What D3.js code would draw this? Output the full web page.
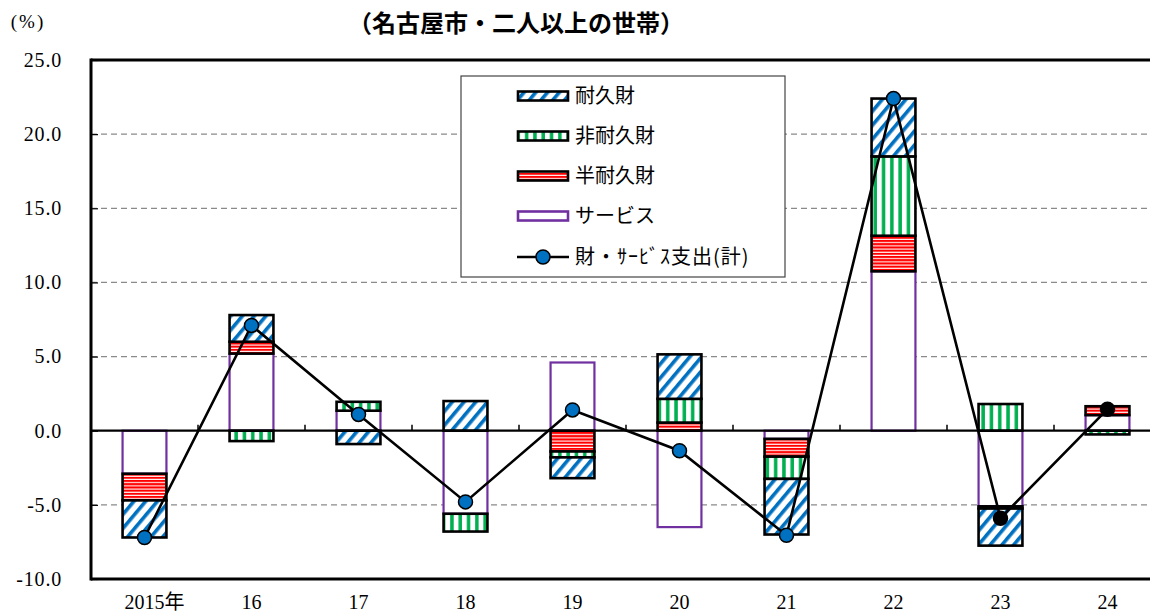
<!DOCTYPE html>
<html><head><meta charset="utf-8">
<script src="https://cdn.jsdelivr.net/npm/d3@7"></script>
<style>body{margin:0;background:#fff;} svg{display:block;}</style>
</head><body>
<svg id="chart" width="1150" height="614"></svg>
<script>
// ---- data ----
const categories = ["2015年","16","17","18","19","20","21","22","23","24"];
const service     = [-2.9, 5.2, 1.35, -5.6, 4.6, -6.5, -0.55, 10.75, -5.1, 1.05];
const semiDurable = [-1.8, 0.8, 0, 0, -1.4, 0.55, -1.2, 2.4, -0.15, 0.6];
const nonDurable  = [0, -0.7, 0.6, -1.2, -0.4, 1.6, -1.5, 5.35, 1.8, -0.25];
const durable     = [-2.5, 1.8, -0.9, 2.0, -1.4, 3.0, -3.75, 3.9, -2.5, 0];
const total       = [-7.2, 7.1, 1.1, -4.8, 1.4, -1.35, -7.05, 22.4, -5.9, 1.45];
const yTicks = [-10, -5, 0, 5, 10, 15, 20, 25];
const legendNames = ["耐久財","非耐久財","半耐久財","サービス","財・ｻｰﾋﾞｽ支出(計)"];
const titleText = "（名古屋市・二人以上の世帯）";
const unitText = "(%)";

// ---- setup ----
const W = 1150, H = 614;
const pL = 91, pR = 1161, pT = 60, pB = 579;
const svg = d3.select("#chart");
const x = d3.scaleBand().domain(categories).range([pL, pR]).paddingInner(0.59).paddingOuter(0.295);
const y = d3.scaleLinear().domain([-10, 25]).range([pB, pT]);
const bw = x.bandwidth();

// ---- patterns ----
const defs = svg.append("defs");
const pDur = defs.append("pattern").attr("id","pDur").attr("patternUnits","userSpaceOnUse")
  .attr("width",9).attr("height",9).attr("patternTransform","rotate(40)");
pDur.append("rect").attr("width",9).attr("height",9).attr("fill","#fff");
pDur.append("rect").attr("x",0).attr("width",3.6).attr("height",9).attr("fill","#0070C0");
const pNon = defs.append("pattern").attr("id","pNon").attr("patternUnits","userSpaceOnUse")
  .attr("width",8.3).attr("height",8);
pNon.append("rect").attr("width",8.3).attr("height",8).attr("fill","#fff");
pNon.append("rect").attr("x",2).attr("width",3.5).attr("height",8).attr("fill","#00B050");
const pSemi = defs.append("pattern").attr("id","pSemi").attr("patternUnits","userSpaceOnUse")
  .attr("width",8).attr("height",3.2);
pSemi.append("rect").attr("width",8).attr("height",3.2).attr("fill","#fff");
pSemi.append("rect").attr("y",0).attr("width",8).attr("height",2.1).attr("fill","#FF0000");

const fills = ["#ffffff","url(#pSemi)","url(#pNon)","url(#pDur)"];
const strokes = ["#7030A0","#000","#000","#000"];
const strokeW = [2.2, 2.6, 2.6, 2.6];

// ---- grid ----
svg.append("g").selectAll("line")
  .data(yTicks.filter(v => v !== 0 && v !== 25 && v !== -10)).join("line")
  .attr("x1", pL).attr("x2", W).attr("y1", d => y(d)).attr("y2", d => y(d))
  .attr("stroke", "#8a8a8a").attr("stroke-width", 1.3).attr("stroke-dasharray", "6,4");

// ---- y axis labels ----
const yAxis = d3.axisLeft(y).tickValues(yTicks).tickSizeInner(-7).tickSizeOuter(0)
  .tickPadding(29).tickFormat(d => d.toFixed(1));
const gy = svg.append("g").attr("transform", `translate(${pL},0)`).call(yAxis);
gy.select(".domain").remove();
gy.selectAll(".tick line").attr("stroke", "#000").attr("stroke-width", 1.2);
gy.selectAll("text").attr("font-family", "'Liberation Serif', serif").attr("font-size", 20).attr("fill", "#000")
  .attr("letter-spacing", 0.8);

// ---- x axis labels ----
const xAxis = d3.axisBottom(x).tickSize(0).tickPadding(16);
const gx = svg.append("g").attr("transform", `translate(0,${pB})`).call(xAxis);
gx.select(".domain").remove();
gx.selectAll("text").attr("font-family", "'Liberation Serif', 'Noto Sans CJK JP', serif").attr("font-size", 20).attr("fill", "#000")
  .attr("dx", (d, i) => i === 0 ? 10 : 0);

// ---- stacked bars ----
const table = categories.map((c, i) => ({cat: c, s0: service[i], s1: semiDurable[i], s2: nonDurable[i], s3: durable[i]}));
const stack = d3.stack().keys(["s0","s1","s2","s3"]).offset(d3.stackOffsetDiverging);
const layers = stack(table);
layers.forEach((layer, k) => {
  svg.append("g").selectAll("rect")
    .data(layer.filter(d => d[1] - d[0] !== 0)).join("rect")
    .attr("x", d => x(d.data.cat)).attr("width", bw)
    .attr("y", d => y(Math.max(d[0], d[1])))
    .attr("height", d => Math.abs(y(d[0]) - y(d[1])))
    .attr("fill", fills[k]).attr("stroke", strokes[k]).attr("stroke-width", strokeW[k]);
});

// ---- zero line with ticks ----
svg.append("line").attr("x1", pL).attr("x2", W).attr("y1", y(0)).attr("y2", y(0))
  .attr("stroke", "#000").attr("stroke-width", 2.2);
svg.append("g").selectAll("line")
  .data(categories.slice(1)).join("line")
  .attr("x1", d => x(d) - x.step() * x.paddingInner() / 2)
  .attr("x2", d => x(d) - x.step() * x.paddingInner() / 2)
  .attr("y1", y(0)).attr("y2", y(0) - 6)
  .attr("stroke", "#000").attr("stroke-width", 1.5);

// ---- borders ----
svg.append("line").attr("x1", pL).attr("x2", W).attr("y1", pT).attr("y2", pT).attr("stroke", "#000").attr("stroke-width", 3);
svg.append("line").attr("x1", pL).attr("x2", W).attr("y1", pB).attr("y2", pB).attr("stroke", "#000").attr("stroke-width", 3);
svg.append("line").attr("x1", pL).attr("x2", pL).attr("y1", pT - 1.5).attr("y2", pB + 1.5).attr("stroke", "#000").attr("stroke-width", 3);

// ---- total line ----
const pts = categories.map((c, i) => ({cat: c, v: total[i], i}));
svg.append("path").datum(pts)
  .attr("d", d3.line().x(d => x(d.cat) + bw / 2).y(d => y(d.v)))
  .attr("fill", "none").attr("stroke", "#000").attr("stroke-width", 2.6);
svg.append("g").selectAll("circle").data(pts).join("circle")
  .attr("cx", d => x(d.cat) + bw / 2).attr("cy", d => y(d.v)).attr("r", 7)
  .attr("fill", d => d.i >= 8 ? "#000" : "#0070C0").attr("stroke", "#000").attr("stroke-width", 1.5);

// ---- legend ----
const lg = svg.append("g");
lg.append("rect").attr("x", 461).attr("y", 76).attr("width", 324).attr("height", 201)
  .attr("fill", "#fff").attr("stroke", "#444").attr("stroke-width", 1.2);
const legFills = ["url(#pDur)","url(#pNon)","url(#pSemi)","#ffffff"];
const legStroke = ["#000","#000","#000","#7030A0"];
const legY = [96, 136, 176, 216, 257];
legendNames.forEach((name, i) => {
  if (i < 4) {
    lg.append("rect").attr("x", 518).attr("y", legY[i] - 4.5).attr("width", 50).attr("height", 9)
      .attr("fill", legFills[i]).attr("stroke", legStroke[i]).attr("stroke-width", 2.6);
  } else {
    lg.append("line").attr("x1", 517).attr("x2", 569).attr("y1", legY[i]).attr("y2", legY[i])
      .attr("stroke", "#000").attr("stroke-width", 2.6);
    lg.append("circle").attr("cx", 543).attr("cy", legY[i]).attr("r", 7)
      .attr("fill", "#0070C0").attr("stroke", "#000").attr("stroke-width", 1.5);
  }
  lg.append("text").attr("x", 575).attr("y", legY[i]).attr("dy", "0.35em")
    .attr("font-family", "'Noto Sans CJK JP', sans-serif").attr("font-size", 20).attr("fill", "#000")
    .attr("letter-spacing", i === 4 ? 1 : 0)
    .text(name);
});

// ---- titles ----
svg.append("text").attr("x", 516).attr("y", 24).attr("dy", "0.35em").attr("text-anchor", "middle")
  .attr("font-family", "'Noto Sans CJK JP', sans-serif").attr("font-weight", 700).attr("font-size", 24)
  .attr("fill", "#000").text(titleText);
svg.append("text").attr("x", 28).attr("y", 21).attr("dy", "0.35em").attr("text-anchor", "middle")
  .attr("font-family", "'Liberation Serif', serif").attr("font-size", 19).attr("letter-spacing", 2)
  .attr("fill", "#000").text(unitText);
</script>
</body></html>
